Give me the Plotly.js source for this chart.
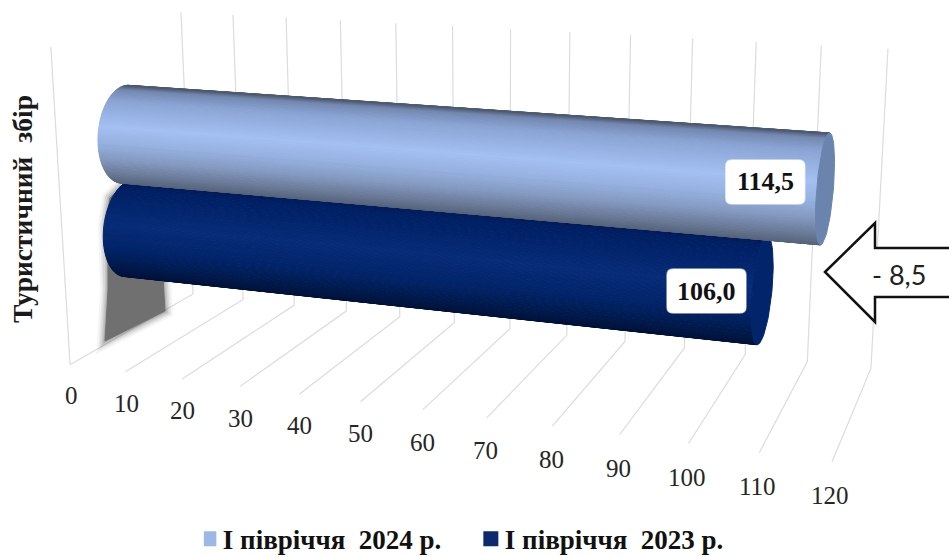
<!DOCTYPE html>
<html><head><meta charset="utf-8">
<script src="https://cdn.plot.ly/plotly-3.0.1.min.js"></script>
<style>html,body{margin:0;padding:0;background:#fff;overflow:hidden}</style>
</head><body><div id="chart" style="width:949px;height:557px"></div>
<script>
// ---- data ----
const axisTicks = [0,10,20,30,40,50,60,70,80,90,100,110,120];
const seriesNames = ['І півріччя  2024 р.','І півріччя  2023 р.'];
const seriesValues = [114.5,106.0];
const seriesLabels = ['114,5','106,0'];
const categoryName = 'Туристичний  збір';
const differenceLabel = '- 8,5';
// ---- style ----
const seriesHeight = [0.655,0.34];
const legendColors = ['#9db7e6','#0b2a6f'];
const capColors = ['#6b84ad','#02246a'];
const ramps = [
 [[0,'#4e5a72'],[0.04,'#7388b0'],[0.15,'#8aa4d4'],[0.42,'#a4c0f2'],[0.6,'#95b0df'],[0.75,'#8499c0'],[0.88,'#6d7d9c'],[1,'#56637a']],
 [[0,'#001a55'],[0.1,'#002065'],[0.45,'#082c78'],[0.7,'#02246a'],[0.85,'#001c52'],[1,'#001238']]
];
// perspective projection of (value, depth 0 back..1 front, height 0..1) onto the page
function project(v,d,z){
  const u=v/120, w=1-0.122*u-0.1165*d-0.0381*z;
  return [(193+571.7*u-131.1*d-18.9*z)/w,(294+29.5*u+28.2*d-282.5*z)/w,w];
}
function hex(c){return [1,3,5].map(i=>parseInt(c.substr(i,2),16));}
function rampColor(r,t){
  for(let i=1;i<r.length;i++) if(t<=r[i][0]){
    const a=r[i-1],b=r[i],f=(t-a[0])/(b[0]-a[0]||1),A=hex(a[1]),B=hex(b[1]);
    return 'rgb('+A.map((x,k)=>Math.round(x+(B[k]-x)*f)).join(',')+')';
  }
  return r[r.length-1][1];
}
const traces=[];
function poly(pts,color){
  traces.push({type:'scatter',mode:'lines',x:pts.map(p=>p[0]),y:pts.map(p=>p[1]),
    fill:'toself',fillcolor:color,line:{color:color,width:1},hoverinfo:'skip',showlegend:false});
}
// grid
axisTicks.forEach(t=>{
  const a=project(t,0,1),b=project(t,0,0),c=project(t,1,0);
  traces.push({type:'scatter',mode:'lines',x:[a[0],b[0],c[0]],y:[a[1],b[1],c[1]],
    line:{color:'#dcdcdc',width:1.2},hoverinfo:'skip',showlegend:false});
});
{
  const a=project(0,1,1),b=project(0,1,0);
  traces.push({type:'scatter',mode:'lines',x:[a[0],b[0]],y:[a[1],b[1]],line:{color:'#dcdcdc',width:1.2},hoverinfo:'skip',showlegend:false});
}
// soft shadow at the base
const shadowHalo=[[122,186],[110,198],[106,225],[108,262],[108,290],[105,341],[165,311],[163,278],[140,230],[122,186]];
[[16,0.07],[12,0.09],[9,0.13],[6,0.18],[3,0.25]].forEach(s=>{
  traces.push({type:'scatter',mode:'lines',x:shadowHalo.map(p=>p[0]),y:shadowHalo.map(p=>p[1]),
   line:{color:'#6e6e6e',width:s[0]},opacity:s[1],hoverinfo:'skip',showlegend:false});
});
poly(shadowHalo,'#707070');
// cylinders (back one first)
const N=140, rd=0.21, rz=0.158;
function cylinder(i){
  const v=seriesValues[i], zc=seriesHeight[i];
  const ring=(val,a)=>project(val,0.5+rd*Math.cos(a),zc+rz*Math.sin(a));
  const strips=[];
  for(let k=0;k<N;k++){
    const a=k/N*2*Math.PI,b=(k+1)/N*2*Math.PI;
    const q=[ring(0,a),ring(0,b),ring(v,b),ring(v,a)];
    let area=0;
    for(let j=0;j<4;j++){const p=q[j],n=q[(j+1)%4];area+=p[0]*n[1]-n[0]*p[1];}
    const mid=ring(v/2,(a+b)/2);
    strips.push({q,area,w:mid[2],y:mid[1]});
  }
  const nearest=strips.reduce((m,s)=>s.w<m.w?s:m,strips[0]);
  const vis=strips.filter(s=>s.area*nearest.area>0);
  const ys=vis.map(s=>s.y),y0=Math.min(...ys),y1=Math.max(...ys);
  vis.forEach(s=>{
    poly(s.q.concat([s.q[0]]),rampColor(ramps[i],(s.y-y0)/(y1-y0)));
  });
  const cap=[];
  for(let k=0;k<=N;k+=2) cap.push(ring(v,k/N*2*Math.PI));
  poly(cap,capColors[i]);
}
cylinder(1);
cylinder(0);
// legend entries
seriesNames.forEach((n,i)=>{
  traces.push({type:'scatter',mode:'markers',x:[null],y:[null],name:n,showlegend:true,
    marker:{symbol:'square',size:15,color:legendColors[i]}});
});
// texts
const serif='Liberation Serif, Times New Roman, serif';
const annotations=[];
axisTicks.forEach(t=>{
  const p=project(t,1,0);
  annotations.push({x:p[0]+1-3*t/120,y:p[1]+31+3*t/120,text:String(t),showarrow:false,xref:'x',yref:'y',
    font:{family:serif,size:25,color:'#262626'}});
});
const labelShift=[[-60,-7],[-56,1]];
const shapes=[];
seriesValues.forEach((v,i)=>{
  const p=project(v,0.5,seriesHeight[i]);
  const cx=p[0]+labelShift[i][0],cy=p[1]+labelShift[i][1];
  const hw=39.5,hh=22,r=6;
  shapes.push({type:'path',xref:'x',yref:'y',layer:'above',fillcolor:'#ffffff',line:{color:'rgba(255,255,255,0.6)',width:1.5},
    path:`M${cx-hw+r},${cy-hh}L${cx+hw-r},${cy-hh}Q${cx+hw},${cy-hh} ${cx+hw},${cy-hh+r}L${cx+hw},${cy+hh-r}Q${cx+hw},${cy+hh} ${cx+hw-r},${cy+hh}L${cx-hw+r},${cy+hh}Q${cx-hw},${cy+hh} ${cx-hw},${cy+hh-r}L${cx-hw},${cy-hh+r}Q${cx-hw},${cy-hh} ${cx-hw+r},${cy-hh}Z`});
  annotations.push({x:cx,y:cy,text:'<b>'+seriesLabels[i]+'</b>',showarrow:false,xref:'x',yref:'y',
    font:{family:serif,size:26,color:'#111111'}});
});
// difference arrow
shapes.push({type:'path',xref:'x',yref:'y',layer:'above',fillcolor:'#ffffff',line:{color:'#111111',width:2.5},
  path:'M825,272L875,223L875,248L960,248L960,297L875,297L875,322Z'});
annotations.push({x:899,y:274,text:differenceLabel,showarrow:false,xref:'x',yref:'y',
  font:{family:'Lato, Open Sans, sans-serif',size:27,color:'#222222'}});
annotations.push({x:22,y:209,text:'<b>'+categoryName+'</b>',textangle:-90,showarrow:false,xref:'x',yref:'y',
  font:{family:serif,size:27.5,color:'#1a1a1a'}});
Plotly.newPlot('chart',traces,{
  width:949,height:557,margin:{l:0,r:0,t:0,b:0,autoexpand:false},paper_bgcolor:'#fff',plot_bgcolor:'#fff',
  xaxis:{range:[0,949],visible:false,fixedrange:true},
  yaxis:{range:[557,0],visible:false,fixedrange:true},
  showlegend:true,
  legend:{orientation:'h',x:0.2148,xanchor:'left',y:-0.012,yanchor:'bottom',indentation:-15,itemwidth:30,
    entrywidth:252,entrywidthmode:'pixels',traceorder:'normal',
    font:{family:serif,size:27,color:'#111111',weight:'bold'}},
  annotations,shapes
},{displayModeBar:false,staticPlot:true}).then(()=>{
  document.querySelectorAll('.legendtext').forEach(t=>t.setAttribute('x',+t.getAttribute('x')-6));
});
</script></body></html>
